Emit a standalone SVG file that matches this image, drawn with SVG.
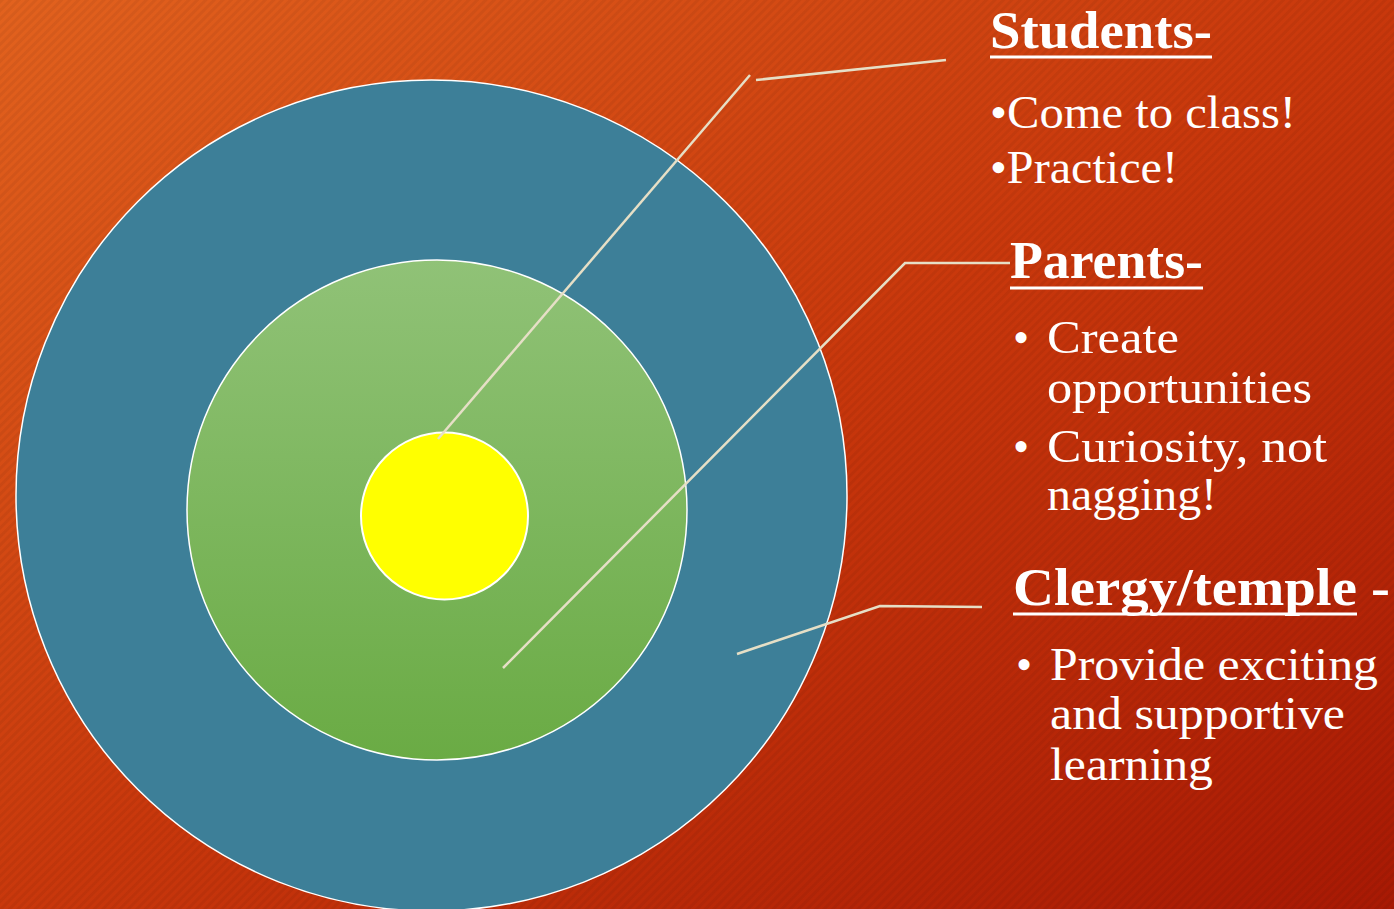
<svg xmlns="http://www.w3.org/2000/svg" width="1394" height="909" viewBox="0 0 1394 909">
<defs>
<linearGradient id="bg" x1="0" y1="0" x2="1" y2="1">
<stop offset="0" stop-color="#e2621e"/>
<stop offset="0.5" stop-color="#c9380c"/>
<stop offset="1" stop-color="#a81904"/>
</linearGradient>
<pattern id="stripes" width="6" height="6" patternUnits="userSpaceOnUse" patternTransform="rotate(45)">
<rect width="3" height="6" fill="#000" opacity="0.05"/>
</pattern>
<linearGradient id="green" x1="0" y1="0" x2="0" y2="1">
<stop offset="0" stop-color="#90c277"/>
<stop offset="1" stop-color="#6aab44"/>
</linearGradient>
<style>
.lead{stroke:#e6dfc6;stroke-width:2.5;fill:none}
.h{font-family:"Liberation Serif",serif;font-weight:bold;fill:#fff;font-size:52px}
.t{font-family:"Liberation Serif",serif;fill:#fff;font-size:46px}
.ul{stroke:#fff;stroke-width:3}
</style>
</defs>
<rect width="1394" height="909" fill="url(#bg)"/>
<rect width="1394" height="909" fill="url(#stripes)"/>
<g id="outer-circle"><circle cx="431.5" cy="495.5" r="415.5" fill="#3d7f98" stroke="#fff" stroke-width="1.5"/></g>
<g id="middle-circle"><circle cx="437" cy="510" r="250" fill="url(#green)" stroke="#fff" stroke-width="1.5"/></g>
<g id="inner-circle"><circle cx="444.5" cy="516" r="83.5" fill="#ffff00" stroke="#fff" stroke-width="2"/></g>
<g id="connectors">
<line class="lead" x1="438" y1="439" x2="750" y2="75"/>
<line class="lead" x1="756" y1="80" x2="946" y2="60"/>
<polyline class="lead" points="503,668 905,263 1010,263"/>
<polyline class="lead" points="737,654 880,606 982,607"/>
</g>
<g id="students">
<text class="h" x="990" y="48" textLength="222" lengthAdjust="spacingAndGlyphs">Students-</text>
<line class="ul" x1="990" y1="57" x2="1212" y2="57"/>
<text class="t" x="990" y="128" textLength="306" lengthAdjust="spacingAndGlyphs">•Come to class!</text>
<text class="t" x="990" y="183" textLength="188" lengthAdjust="spacingAndGlyphs">•Practice!</text>
</g>
<g id="parents">
<text class="h" x="1010" y="278" textLength="193" lengthAdjust="spacingAndGlyphs">Parents-</text>
<line class="ul" x1="1010" y1="288" x2="1203" y2="288"/>
<text class="t" x="1013" y="353">•</text>
<text class="t" x="1047" y="353" textLength="132" lengthAdjust="spacingAndGlyphs">Create</text>
<text class="t" x="1047" y="403" textLength="265" lengthAdjust="spacingAndGlyphs">opportunities</text>
<text class="t" x="1013" y="462">•</text>
<text class="t" x="1047" y="462" textLength="280" lengthAdjust="spacingAndGlyphs">Curiosity, not</text>
<text class="t" x="1047" y="510" textLength="170" lengthAdjust="spacingAndGlyphs">nagging!</text>
</g>
<g id="clergy">
<text class="h" x="1013" y="605" textLength="377" lengthAdjust="spacingAndGlyphs">Clergy/temple -</text>
<line class="ul" x1="1013" y1="614" x2="1357" y2="614"/>
<text class="t" x="1016" y="680">•</text>
<text class="t" x="1050" y="680" textLength="328" lengthAdjust="spacingAndGlyphs">Provide exciting</text>
<text class="t" x="1050" y="729" textLength="295" lengthAdjust="spacingAndGlyphs">and supportive</text>
<text class="t" x="1050" y="780" textLength="163" lengthAdjust="spacingAndGlyphs">learning</text>
</g>
</svg>
